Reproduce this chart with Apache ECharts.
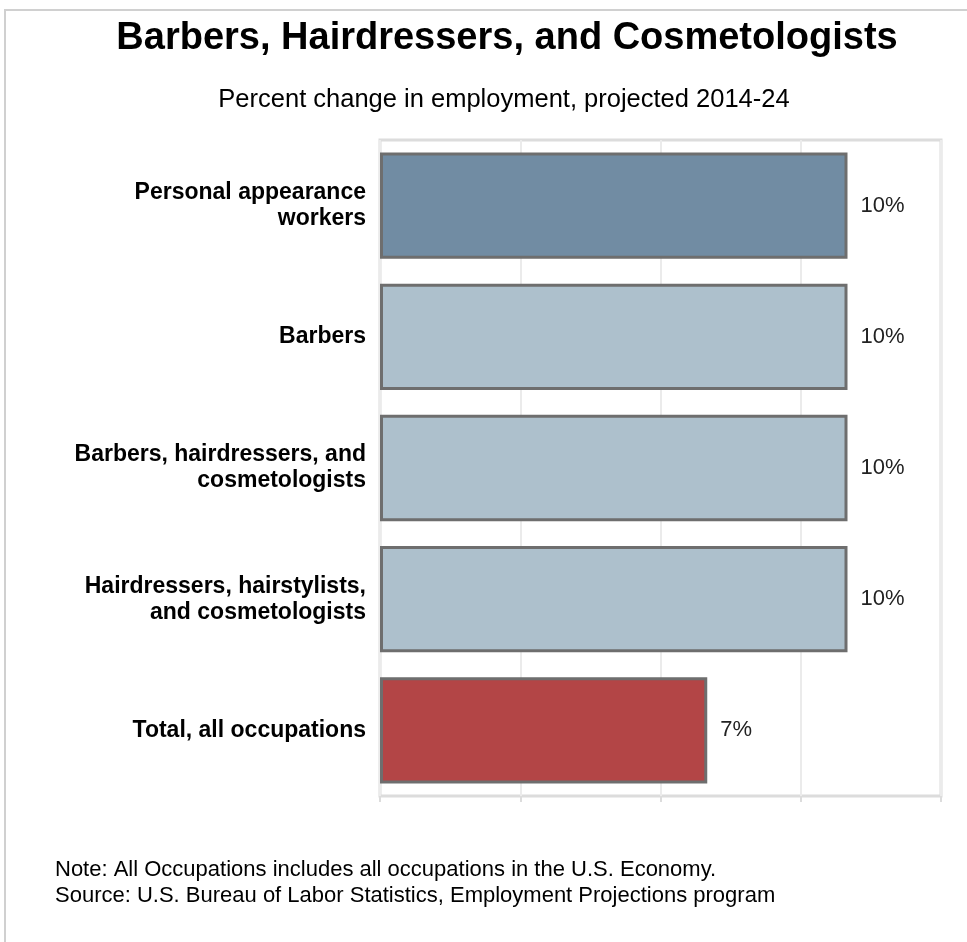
<!DOCTYPE html>
<html>
<head>
<meta charset="utf-8">
<script src="https://cdn.jsdelivr.net/npm/echarts@6/dist/echarts.min.js"></script>
<style>
html,body{margin:0;padding:0;background:#fff;}
#chart{width:967px;height:942px;}
</style>
</head>
<body>
<div id="chart"></div>
<script>
const categories = [
  "Personal appearance\nworkers",
  "Barbers",
  "Barbers, hairdressers, and\ncosmetologists",
  "Hairdressers, hairstylists,\nand cosmetologists",
  "Total, all occupations"
];
const values = [10, 10, 10, 10, 7];
const barColors = ["#718ca3", "#adc0cc", "#adc0cc", "#adc0cc", "#b34546"];
const titleText = "Barbers, Hairdressers, and Cosmetologists";
const subtitleText = "Percent change in employment, projected 2014-24";
const noteLines = [
  "Note: All Occupations includes all occupations in the U.S. Economy.",
  "Source: U.S. Bureau of Labor Statistics, Employment Projections program"
];

const chart = echarts.init(document.getElementById('chart'));
const FONT = 'Liberation Sans, Arial, sans-serif';
chart.setOption({
  animation: false,
  backgroundColor: '#fff',
  grid: {left: 380, right: 26, top: 140, bottom: 146, show: true, borderColor: '#dcdcdc', borderWidth: 3, containLabel: false},
  xAxis: {
    type: 'value', min: 0, max: 12, interval: 3,
    axisLabel: {show: false},
    axisLine: {show: false},
    axisTick: {show: true, length: 6, lineStyle: {color: '#dcdcdc', width: 2}},
    splitLine: {show: true, lineStyle: {color: '#ebebeb', width: 2}}
  },
  yAxis: {
    type: 'category', data: categories, inverse: true,
    axisLine: {show: false}, axisTick: {show: false},
    axisLabel: {fontFamily: FONT, fontWeight: 'bold', fontSize: 23, color: '#000', margin: 14, lineHeight: 26, align: 'right'}
  },
  series: [{
    type: 'bar',
    data: values.map((v, i) => ({value: v, itemStyle: {color: barColors[i]}})),
    barCategoryGap: '19%',
    itemStyle: {borderColor: '#6e6e6e', borderWidth: 3},
    label: {show: true, position: 'right', distance: 13, formatter: '{c}%', fontFamily: FONT, fontSize: 22, color: '#222'}
  }],
  graphic: [
    {type: 'rect', shape: {x: 5, y: 10, width: 1000, height: 1000}, style: {fill: 'none', stroke: '#d0d0d0', lineWidth: 2}, z: -1},
    {type: 'text', x: 507, y: 39, style: {text: titleText, font: 'bold 38px ' + FONT, fill: '#000', textAlign: 'center', textVerticalAlign: 'middle'}},
    {type: 'text', x: 504, y: 100, style: {text: subtitleText, font: '25.5px ' + FONT, fill: '#000', textAlign: 'center', textVerticalAlign: 'middle'}},
    {type: 'text', x: 55, y: 870, style: {text: noteLines[0], font: '22px ' + FONT, fill: '#000', textAlign: 'left', textVerticalAlign: 'middle'}},
    {type: 'text', x: 55, y: 896, style: {text: noteLines[1], font: '22px ' + FONT, fill: '#000', textAlign: 'left', textVerticalAlign: 'middle'}}
  ]
});
</script>
</body>
</html>
